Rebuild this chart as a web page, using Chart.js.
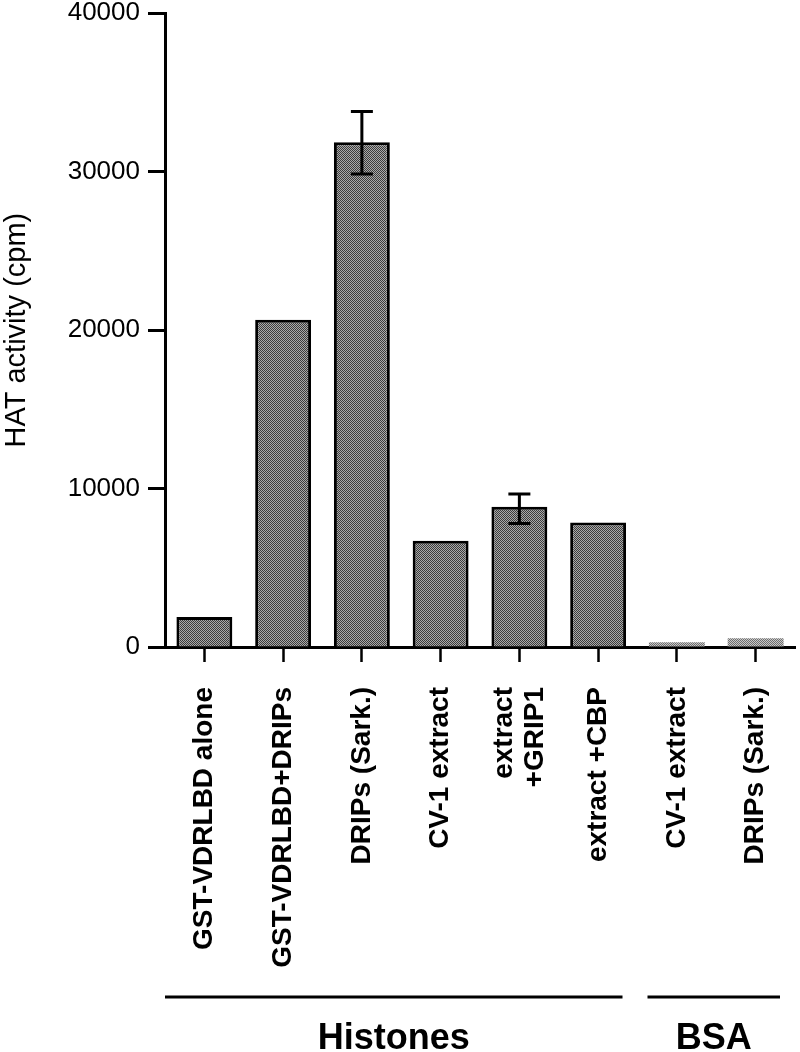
<!DOCTYPE html>
<html>
<head>
<meta charset="utf-8">
<script src="https://cdn.jsdelivr.net/npm/chart.js@4.4.1/dist/chart.umd.min.js"></script>
<style>
	html, body { margin: 0; padding: 0; background: #fff; }
</style>
</head>
<body>
<canvas id="c" width="800" height="1052"></canvas>
<script>
// bar labels (one entry per line of the rotated label)
const labels = [
	['GST-VDRLBD alone'],
	['GST-VDRLBD+DRIPs'],
	['DRIPs (Sark.)'],
	['CV-1 extract'],
	['extract', '+GRIP1'],
	['extract +CBP'],
	['CV-1 extract'],
	['DRIPs (Sark.)'],
];
const activity = [1900, 20650, 31850, 6700, 8850, 7850, 300, 550];
const errLow  = [null, null, 29850, null, 7800, null, null, null];
const errHigh = [null, null, 33800, null, 9650, null, null, null];

// substrate groups under the labels
const groupNames = ['Histones', 'BSA'];
const groupFirst = [0, 6];
const groupLast  = [5, 7];

const FONT = '"Liberation Sans", Arial, Helvetica, sans-serif';

const canvas = document.getElementById('c');
const ctx0 = canvas.getContext('2d');

function stipple(dark, light) {
	let c = document.createElement('canvas');
	c.width = 2; c.height = 2;
	let g = c.getContext('2d');
	g.fillStyle = light;
	g.fillRect(0, 0, 2, 2);
	g.fillStyle = dark;
	g.fillRect(0, 0, 1, 1);
	g.fillRect(1, 1, 1, 1);
	return ctx0.createPattern(c, 'repeat');
}

const darkFill = stipple('#3c3c3c', '#aaaaaa');
const lightFill = stipple('#6e6e6e', '#c8c8c8');

let fills = [];
let borders = [];
for(let i=0; i<activity.length; i++)
{
	let bsa = i>=groupFirst[1];
	fills.push(bsa?lightFill:darkFill);
	borders.push(bsa?0:3);
}

const errorBars = {
	id: 'errorBars',
	afterDatasetsDraw(chart) {
		const {ctx, scales: {x, y}} = chart;
		ctx.save();
		ctx.strokeStyle = '#000';
		ctx.lineWidth = 3;
		for(let i=0; i<errHigh.length; i++)
		{
			if(errHigh[i]===null)
				continue;
			let cx = x.getPixelForValue(i);
			let yh = y.getPixelForValue(errHigh[i]);
			let yl = y.getPixelForValue(errLow[i]);
			ctx.beginPath();
			ctx.moveTo(cx, yh); ctx.lineTo(cx, yl);
			ctx.moveTo(cx-11, yh); ctx.lineTo(cx+11, yh);
			ctx.moveTo(cx-11, yl); ctx.lineTo(cx+11, yl);
			ctx.stroke();
		}
		ctx.restore();
	}
};

const categoryLabels = {
	id: 'categoryLabels',
	afterDraw(chart) {
		const {ctx, scales: {x}} = chart;
		const w = x.getPixelForValue(1) - x.getPixelForValue(0);
		ctx.save();
		ctx.fillStyle = '#000';

		// rotated bar labels
		ctx.font = 'bold 28px ' + FONT;
		ctx.textAlign = 'right';
		ctx.textBaseline = 'middle';
		labels.forEach((lines, i) => {
			let cx = x.getPixelForValue(i);
			lines.forEach((t, k) => {
				let lx = cx + (k - (lines.length-1)/2) * 31;
				ctx.save();
				ctx.translate(lx, x.top + 40);
				ctx.rotate(-Math.PI/2);
				ctx.fillText(t, 0, 0);
				ctx.restore();
			});
		});

		// group brackets
		ctx.strokeStyle = '#000';
		ctx.lineWidth = 3;
		ctx.font = 'bold 36px ' + FONT;
		ctx.textAlign = 'center';
		ctx.textBaseline = 'alphabetic';
		groupNames.forEach((name, g) => {
			let x0 = x.getPixelForValue(groupFirst[g]) - w/2 + (g==0?0:10);
			let x1 = x.getPixelForValue(groupLast[g]) + w/2 - 15;
			let ly = x.top + 350;
			ctx.beginPath();
			ctx.moveTo(x0, ly); ctx.lineTo(x1, ly);
			ctx.stroke();
			ctx.fillText(name, (x0+x1)/2, x.top + 402);
		});
		ctx.restore();
	}
};

new Chart(canvas, {
	type: 'bar',
	data: {
		labels: labels.map(l => l.join(' ')),
		datasets: [{
			data: activity,
			backgroundColor: fills,
			borderColor: '#000',
			borderWidth: borders,
			borderSkipped: 'start',
			barPercentage: 0.71,
			categoryPercentage: 1.0,
		}],
	},
	options: {
		responsive: false,
		animation: false,
		layout: { padding: { top: 0, right: 5, left: 0, bottom: 0 } },
		plugins: {
			legend: { display: false },
			tooltip: { enabled: false },
		},
		scales: {
			x: {
				grid: { offset: false, drawOnChartArea: false, tickLength: 15, tickWidth: 2.5, tickColor: '#000' },
				border: { display: true, width: 3, color: '#000' },
				ticks: { display: false },
				afterFit: s => { s.height = 405; },
			},
			y: {
				min: 0,
				max: 40000,
				ticks: {
					stepSize: 10000,
					padding: 8,
					color: '#000',
					font: { family: FONT, size: 26, lineHeight: 0.4 },
					callback: v => String(v),
				},
				grid: { drawOnChartArea: false, tickLength: 17, tickWidth: 3, tickColor: '#000' },
				border: { display: true, width: 3, color: '#000' },
				title: {
					display: true,
					text: 'HAT activity (cpm)',
					color: '#000',
					font: { family: FONT, size: 29 },
					padding: { top: 0, bottom: 0 },
				},
				afterFit: s => { s.width = 165; },
			},
		},
	},
	plugins: [errorBars, categoryLabels],
});
</script>
</body>
</html>
